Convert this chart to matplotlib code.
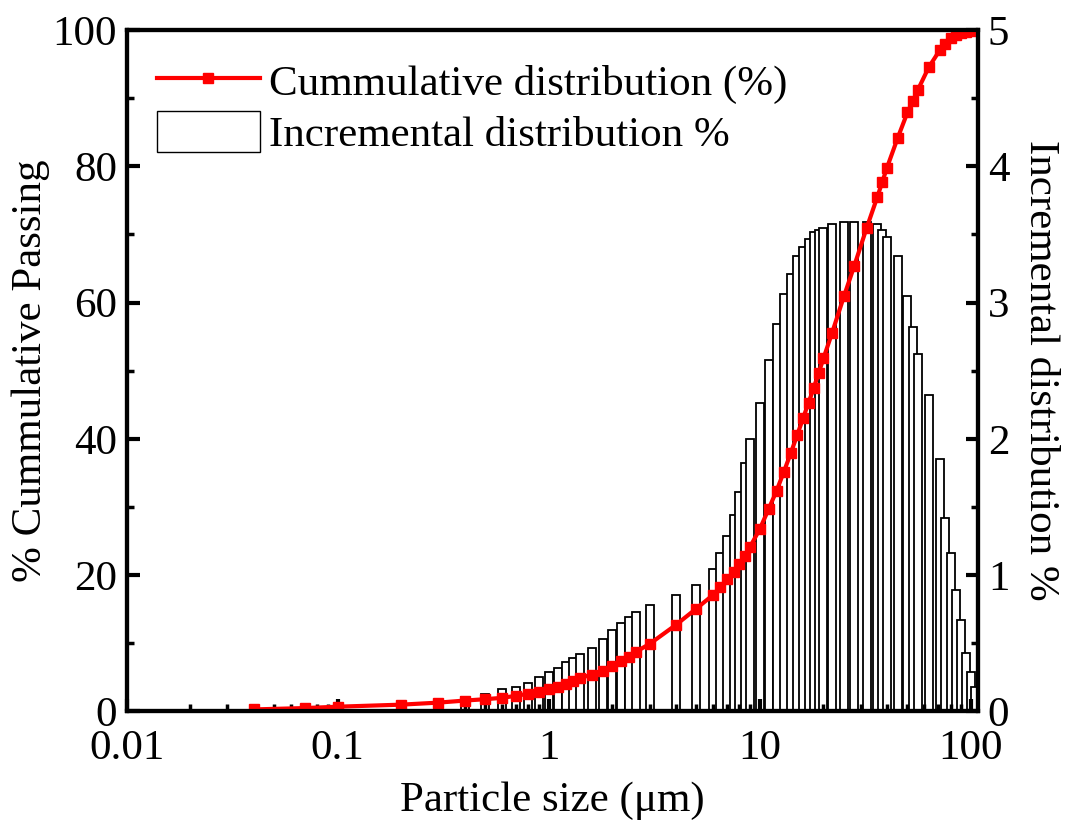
import matplotlib
matplotlib.use("Agg")
import matplotlib.pyplot as plt
import numpy as np
from matplotlib.lines import Line2D
from matplotlib.patches import Patch
from matplotlib.ticker import LogLocator, MultipleLocator, FixedLocator, NullFormatter

plt.rcParams["font.family"] = ["Liberation Serif", "DejaVu Serif"]

# particle size classes (um)
sizes = [0.04, 0.07, 0.1, 0.2, 0.3, 0.4, 0.5, 0.6, 0.7, 0.8, 0.9, 1.0, 1.1, 1.2,
         1.3, 1.4, 1.6, 1.8, 2.0, 2.2, 2.4, 2.6, 3, 4, 5, 6, 6.5, 7, 7.5, 8, 8.5,
         9, 10, 11, 12, 13, 14, 15, 16, 17, 18, 19, 20, 22, 25, 28, 32, 36, 38,
         40, 45, 50, 53, 56, 63, 71, 75, 80, 85, 90, 95, 100, 105]

# cumulative passing (%)
cumulative = [0.3, 0.5, 0.7, 1.0, 1.3, 1.6, 1.8, 2.0, 2.3, 2.6, 2.9, 3.3, 3.6, 4.0,
              4.5, 4.9, 5.4, 6.0, 6.7, 7.4, 8.0, 8.8, 9.9, 12.7, 15.1, 17.1, 18.3,
              19.4, 20.4, 21.6, 22.8, 24.2, 26.8, 29.7, 32.4, 35.2, 37.9, 40.5,
              43.0, 45.3, 47.5, 49.7, 51.8, 55.6, 60.9, 65.4, 70.9, 75.5, 77.7,
              79.8, 84.2, 87.9, 89.6, 91.2, 94.5, 97.0, 98.0, 98.8, 99.3, 99.5,
              99.7, 99.8, 100.0]

# incremental distribution (%)
incremental = [0.01, 0.03, 0.03, 0.045, 0.075, 0.105, 0.13, 0.165, 0.18, 0.21, 0.25,
               0.29, 0.32, 0.365, 0.39, 0.42, 0.465, 0.53, 0.60, 0.65, 0.69, 0.73,
               0.78, 0.855, 0.925, 1.045, 1.16, 1.29, 1.445, 1.61, 1.82, 2.0, 2.26,
               2.58, 2.84, 3.06, 3.21, 3.34, 3.41, 3.47, 3.52, 3.53, 3.55, 3.58,
               3.59, 3.59, 3.59, 3.58, 3.53, 3.48, 3.34, 3.05, 2.82, 2.62, 2.32,
               1.85, 1.42, 1.16, 0.89, 0.67, 0.43, 0.29, 0.18]

x = np.array(sizes)
half = 0.019  # half bar width in decades
left_edges = x * 10 ** (-half)
widths = x * (10 ** half - 10 ** (-half))

fig = plt.figure(figsize=(10.73, 8.27), dpi=100)
ax = fig.add_axes([0.118, 0.1397, 0.7935, 0.824])
ax2 = ax.twinx()

ax2.bar(left_edges, incremental, width=widths, align="edge",
        facecolor="white", edgecolor="black", linewidth=1.3)

ax.plot(x, cumulative, color="red", lw=3, marker="s", markersize=7,
        markerfacecolor="red", markeredgecolor="red")

ax.set_zorder(ax2.get_zorder() + 1)
ax.patch.set_visible(False)

ax.set_xscale("log")
ax.set_xlim(0.01, 108)
ax.set_ylim(0, 100)
ax2.set_ylim(0, 5)

ax.xaxis.set_major_locator(FixedLocator([0.01, 0.1, 1, 10, 100]))
ax.set_xticklabels(["0.01", "0.1", "1", "10", "100"])
ax.xaxis.set_minor_locator(LogLocator(base=10, subs=np.arange(2, 10), numticks=20))
ax.xaxis.set_minor_formatter(NullFormatter())
ax.yaxis.set_major_locator(MultipleLocator(20))
ax.yaxis.set_minor_locator(MultipleLocator(10))
ax2.yaxis.set_major_locator(MultipleLocator(1))
ax2.yaxis.set_minor_locator(MultipleLocator(0.5))

fs = 31
for a in (ax, ax2):
    a.tick_params(which="major", direction="in", length=9, width=3, labelsize=fs)
    a.tick_params(which="minor", direction="in", length=5, width=2.5)
    for s in a.spines.values():
        s.set_linewidth(3)
ax.tick_params(axis="x", pad=13)
ax.tick_params(axis="y", pad=7)
ax2.tick_params(axis="y", pad=7)

ax.set_xlabel("Particle size (\u03bcm)", fontsize=fs, labelpad=10)
ax.set_ylabel("% Cummulative Passing", fontsize=fs, labelpad=2)
ax2.set_ylabel("Incremental distribution %", fontsize=fs, rotation=270, labelpad=36)

handles = [
    Line2D([], [], color="red", lw=3, marker="s", markersize=7),
    Patch(facecolor="white", edgecolor="black", linewidth=1),
]
labels = ["Cummulative distribution (%)", "Incremental distribution %"]
ax.legend(handles, labels, loc="upper left", frameon=False, fontsize=fs,
          handlelength=2.4, handleheight=1.1, handletextpad=0.2,
          borderaxespad=0.3, labelspacing=0.15)

fig.savefig("out.png", dpi=100)
